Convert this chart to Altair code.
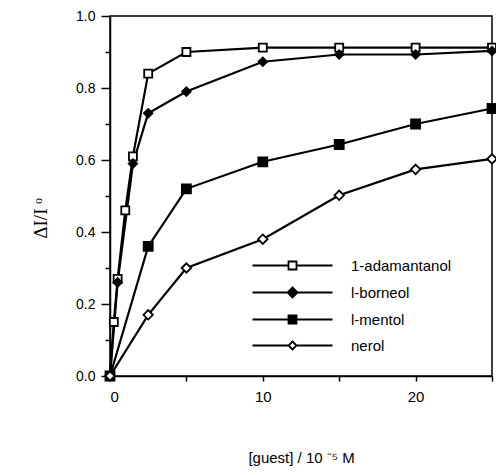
import altair as alt
import pandas as pd

series = ["1-adamantanol", "l-borneol", "l-mentol", "nerol"]

x_adam = [0, 0.25, 0.5, 1.0, 1.5, 2.5, 5, 10, 15, 20, 25]
y_adam = [0.0, 0.15, 0.27, 0.46, 0.61, 0.84, 0.90, 0.912, 0.912, 0.912, 0.912]
x_born = [0, 0.5, 1.5, 2.5, 5, 10, 15, 20, 25]
y_born = [0.0, 0.26, 0.59, 0.73, 0.79, 0.873, 0.893, 0.893, 0.903]
x_ment = [0, 2.5, 5, 10, 15, 20, 25]
y_ment = [0.0, 0.36, 0.52, 0.595, 0.643, 0.70, 0.743]
x_nero = [0, 2.5, 5, 10, 15, 20, 25]
y_nero = [0.0, 0.17, 0.30, 0.38, 0.502, 0.574, 0.603]

x_ticks = [0, 5, 10, 15, 20, 25]
y_ticks = [0.0, 0.1, 0.2, 0.3, 0.4, 0.5, 0.6, 0.7, 0.8, 0.9, 1.0]

rows = []
for name, xs, ys in [(series[0], x_adam, y_adam), (series[1], x_born, y_born),
                     (series[2], x_ment, y_ment), (series[3], x_nero, y_nero)]:
    for xv, yv in zip(xs, ys):
        rows.append({"series": name, "x": xv, "y": yv})
df = pd.DataFrame(rows)

fills = ["white", "black", "black", "white"]
strokes = ["black", "black", "black", "black"]
plot_shapes = ["square", "diamond", "square", "diamond"]
plot_sizes = [64, 90, 64, 56]
legend_paths = [
    "M-8,0H-0.8M0.8,0H8M-0.8,-0.8H0.8V0.8H-0.8Z",
    "M-8,0H-1M1,0H8M0,-1L1,0L0,1L-1,0Z",
    "M-8,0H-0.8M0.8,0H8M-0.8,-0.8H0.8V0.8H-0.8Z",
    "M-8,0H-0.8M0.8,0H8M0,-0.8L0.8,0L0,0.8L-0.8,0Z",
]

x_enc = alt.X(
    "x:Q",
    scale=alt.Scale(domain=[0, 25], nice=False, zero=False),
    axis=alt.Axis(
        values=x_ticks,
        labelExpr="datum.value % 10 == 0 ? datum.label : ''",
        title="[guest] / 10 \u207b\u2075 M",
        titleFontSize=15,
        titleFontWeight="normal",
        titleY=81,
        titleBaseline="middle",
        labelFontSize=15,
        labelPadding=8,
        tickSize=5,
    ),
)
y_enc = alt.Y(
    "y:Q",
    scale=alt.Scale(domain=[0, 1], nice=False, zero=False),
    axis=alt.Axis(
        values=y_ticks,
        labelExpr="round(datum.value * 10) % 2 == 0 ? format(datum.value, '.1f') : ''",
        tickSize={"condition": {"test": "round(datum.value * 10) % 2 == 0", "value": 9}, "value": 5},
        title="\u0394I/I \u1d52",
        titleFont="Liberation Serif",
        titleFontSize=19,
        titleFontWeight="normal",
        titleAngle=-90,
        titleX=-70,
        titleY=202,
        titleAlign="center",
        titleBaseline="middle",
        labelFontSize=14,
        labelPadding=6,
    ),
)

base = alt.Chart(df)

lines = base.mark_line(color="black", strokeWidth=2.2).encode(
    x=x_enc, y=y_enc, detail="series:N", order="x:Q"
)

points = base.mark_point(filled=True, stroke="black", strokeWidth=1.8, opacity=1).encode(
    x=x_enc,
    y=y_enc,
    shape=alt.Shape("series:N", scale=alt.Scale(domain=series, range=plot_shapes), legend=None),
    fill=alt.Fill("series:N", scale=alt.Scale(domain=series, range=fills), legend=None),
    size=alt.Size("series:N", scale=alt.Scale(domain=series, range=plot_sizes), legend=None),
)

leg_props = dict(
    title=None,
    orient="none",
    legendX=175,
    legendY=242,
    labelFontSize=15,
    labelOffset=51,
    rowPadding=9,
    padding=0,
    symbolStrokeWidth=1.8,
    labelColor="black",
)

legend_layer = base.transform_filter("false").mark_point(
    filled=True, strokeWidth=1.8, size=81, opacity=1
).encode(
    x=x_enc,
    y=y_enc,
    shape=alt.Shape("series:N", scale=alt.Scale(domain=series, range=legend_paths),
                    legend=alt.Legend(**leg_props)),
    fill=alt.Fill("series:N", scale=alt.Scale(domain=series, range=fills),
                  legend=alt.Legend(**leg_props)),
    stroke=alt.Stroke("series:N", scale=alt.Scale(domain=series, range=strokes),
                      legend=alt.Legend(**leg_props)),
)

chart = alt.layer(lines, points, legend_layer).resolve_scale(
    shape="independent", fill="independent", size="independent", stroke="independent"
).properties(
    width=382,
    height=360,
    autosize=alt.AutoSizeParams(type="none"),
    padding={"left": 110, "top": 16, "right": 4, "bottom": 99},
    background="white",
).configure(
    font="Liberation Sans"
).configure_view(
    stroke="black", strokeWidth=1.5
).configure_axis(
    grid=False,
    domainColor="black",
    domainWidth=1.5,
    tickColor="black",
    tickWidth=1.5,
    labelColor="black",
    titleColor="black",
)

chart.save("out.html", embed_options={"renderer": "svg", "actions": False})
